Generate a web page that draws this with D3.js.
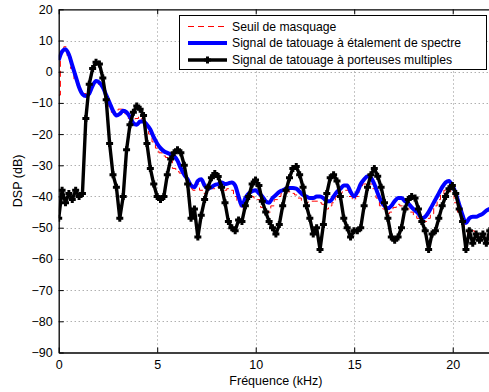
<!DOCTYPE html>
<html>
<head>
<meta charset="utf-8">
<script src="https://cdn.jsdelivr.net/npm/d3@7"></script>
<style>
  body { margin: 0; background: #fff; }
  svg { display: block; }
  text { font-family: "Liberation Sans", Arial, sans-serif; fill: #000; }
</style>
</head>
<body>
<svg id="chart" width="489" height="392"></svg>
<script>
// FFT bin spacing (kHz) for a 256-point transform at 44.1 kHz
const binStep = 44.1 / 256;

// Masking threshold (dB), one value per bin
const threshold = [
  -7.5, 6, 8, 5, 1, -2.5, -5.5, -7.5, -7, -5.5,
  -4, -3.5, -4, -5.5, -8, -11, -13, -13, -12, -12,
  -13.5, -15, -15.5, -15, -14.5, -16, -18, -20, -22.5, -24.5,
  -26, -27, -27.5, -28.5, -31, -32, -32.5, -33.5, -36, -37.5,
  -38, -36, -38, -39, -38.5, -37.5, -37.5, -37, -37.5, -38,
  -37.5, -38, -40, -42, -44, -42, -40.5, -40, -40.5, -41,
  -43.5, -44.5, -45, -43, -41, -40, -39, -38.5, -38.5, -39,
  -39.5, -40.5, -41.5, -42, -41.5, -41.5, -41.5, -42, -42.5, -44,
  -43, -42, -40, -39, -38.5, -38, -40, -41, -40, -37.5,
  -36, -35.5, -36, -37.5, -40.5, -43, -44, -45.5, -45, -43.5,
  -42.5, -43, -44, -44, -45, -46, -47, -48, -48, -47,
  -45.5, -43, -41, -39.5, -38, -37.5, -38.5, -42, -45, -48,
  -51, -52, -51, -52, -53, -52, -53, -52
];

// Spread-spectrum watermark PSD (dB)
const spreadSpectrum = [
  3.7, 6.5, 7.2, 5.5, 2, -1.5, -5, -7.2, -7.8, -7,
  -4.5, -3, -3.5, -5, -7.5, -10, -12.5, -14, -13.5, -12.5,
  -13, -14.5, -16.5, -17, -16, -16, -17, -18.5, -21, -23,
  -24.5, -25.5, -26, -26.5, -27, -28.5, -31, -33, -34.5, -36.5,
  -37, -35, -34.5, -36.5, -37.5, -37, -36.3, -36, -35.5, -36,
  -35.8, -35.5, -36.5, -40, -43, -40.5, -39, -38.3, -38, -39,
  -40, -41.5, -42, -40.5, -39.5, -38.5, -38, -37.5, -37.3, -37.3,
  -37.5, -38.5, -39.5, -40, -40.5, -40.5, -40, -40, -40.5, -41.5,
  -41.5, -40, -38.5, -37.5, -36.5, -36.5, -38.5, -40, -38.5, -36,
  -34.5, -33.5, -34, -36, -39, -41.5, -43, -43.8, -43, -41.5,
  -40.5, -40.5, -41.5, -42.2, -43.5, -44.5, -45.5, -47, -46.5, -45,
  -43, -41, -39, -37, -35.5, -35, -36.5, -39, -42.5, -46,
  -48.5, -47, -46.5, -46.5, -46, -45.5, -44.5, -44
];

// Multi-carrier watermark PSD (dB)
const multiCarrier = [
  -47, -38, -42, -39, -41, -38, -40, -39, -15, -4,
  1, 3, 2.5, -2, -9, -23, -33, -37, -47, -40,
  -25, -17, -13, -11, -12, -14, -23, -31, -36, -40,
  -41, -40, -33, -28, -26, -25, -26, -30, -36, -47,
  -44, -53, -46, -41, -37, -34, -32.6, -33.6, -37, -42,
  -48, -50, -51, -47.5, -48, -43, -40, -36, -34.7, -36.5,
  -41.5, -45, -48, -50, -52, -49, -43, -38, -34, -31,
  -30.4, -33, -37, -43, -47, -52, -50, -57, -49, -39,
  -34, -33, -35, -40, -47, -50, -53, -51, -51, -50,
  -43, -37, -33, -31, -33.5, -37, -42, -47, -53, -54,
  -53, -50, -44, -41, -40, -40.5, -44, -48, -51, -57,
  -52, -51, -47, -43, -40, -37.5, -36.5, -39, -44, -48,
  -57, -51, -55, -52, -54, -52, -55, -51
];

const xTicks = [0, 5, 10, 15, 20];
const yTicks = [-90, -80, -70, -60, -50, -40, -30, -20, -10, 0, 10, 20];
const legendLabels = [
  "Seuil de masquage",
  "Signal de tatouage à étalement de spectre",
  "Signal de tatouage à porteuses multiples"
];

const svg = d3.select("#chart");
const margin = { left: 58.7, top: 9.3 };
const plotW = 434.4, plotH = 343.2;

const x = d3.scaleLinear().domain([0, 22.05]).range([margin.left, margin.left + plotW]);
const y = d3.scaleLinear().domain([-90, 20]).range([margin.top + plotH, margin.top]);

const freqs = threshold.map((_, i) => i * binStep);

svg.append("defs").append("clipPath").attr("id", "plot-clip")
  .append("rect")
  .attr("x", x(0)).attr("y", y(20))
  .attr("width", plotW).attr("height", plotH);

// Dotted grid
const grid = svg.append("g").attr("stroke", "#8c8c8c").attr("stroke-width", 1)
  .attr("stroke-dasharray", "1,3");
grid.selectAll("line.h").data(yTicks.filter(t => t > -90 && t < 20)).join("line")
  .attr("class", "h")
  .attr("x1", x(0)).attr("x2", x(22.05))
  .attr("y1", d => Math.round(y(d)) + 0.5).attr("y2", d => Math.round(y(d)) + 0.5);
grid.selectAll("line.v").data(xTicks.filter(t => t > 0)).join("line")
  .attr("class", "v")
  .attr("y1", y(-90)).attr("y2", y(20))
  .attr("x1", d => Math.round(x(d)) + 0.5).attr("x2", d => Math.round(x(d)) + 0.5);

const plot = svg.append("g").attr("clip-path", "url(#plot-clip)");

const line = (vals, curve) => d3.line()
  .x((d, i) => x(freqs[i]))
  .y(d => y(d))
  .curve(curve)(vals);

plot.append("path")
  .attr("d", line(threshold, d3.curveStep))
  .attr("fill", "none").attr("stroke", "#ff0000")
  .attr("stroke-width", 1).attr("stroke-dasharray", "6,4");

plot.append("path")
  .attr("d", line(spreadSpectrum, d3.curveMonotoneX))
  .attr("fill", "none").attr("stroke", "#0000ff")
  .attr("stroke-width", 4).attr("stroke-linejoin", "round");

plot.append("path")
  .attr("d", line(multiCarrier, d3.curveLinear))
  .attr("fill", "none").attr("stroke", "#000")
  .attr("stroke-width", 3.4).attr("stroke-linejoin", "round");

const plusPath = "M-3.5,0H3.5M0,-3.5V3.5";
plot.selectAll("path.marker").data(multiCarrier).join("path")
  .attr("class", "marker")
  .attr("d", plusPath)
  .attr("transform", (d, i) => `translate(${x(freqs[i])},${y(d)})`)
  .attr("stroke", "#000").attr("stroke-width", 3);

// Axes with inward ticks
const xAxis = d3.axisBottom(x).tickValues(xTicks).tickSizeInner(-5).tickSizeOuter(0).tickPadding(8);
const yAxis = d3.axisLeft(y).tickValues(yTicks).tickSizeInner(-5).tickSizeOuter(0).tickPadding(6);

const gx = svg.append("g").attr("transform", `translate(0,${y(-90)})`).call(xAxis);
const gy = svg.append("g").attr("transform", `translate(${x(0)},0)`).call(yAxis);
const gTop = svg.append("g").attr("transform", `translate(0,${y(20)})`)
  .call(d3.axisTop(x).tickValues(xTicks).tickSizeInner(-5).tickSizeOuter(0).tickFormat(""));

[gx, gy, gTop].forEach(g => {
  g.select(".domain").attr("stroke", "#000").attr("stroke-width", 1.3);
  g.selectAll(".tick line").attr("stroke", "#000");
  g.selectAll("text").attr("font-size", 12.5).attr("font-family", "'Liberation Sans', Arial, sans-serif");
});

// Axis titles
svg.append("text")
  .attr("x", x(0) + plotW / 2).attr("y", 385)
  .attr("text-anchor", "middle").attr("font-size", 12.5)
  .text("Fréquence (kHz)");
svg.append("text")
  .attr("transform", `translate(22,${y(-35)}) rotate(-90)`)
  .attr("text-anchor", "middle").attr("font-size", 12.5)
  .text("DSP (dB)");

// Legend
const legend = svg.append("g");
legend.append("rect")
  .attr("x", 179.5).attr("y", 15.5).attr("width", 307).attr("height", 54)
  .attr("fill", "#fff").attr("stroke", "#000").attr("stroke-width", 1);

const legendStyles = [
  { stroke: "#ff0000", width: 1, dash: "6,4", marker: false },
  { stroke: "#0000ff", width: 4, dash: null, marker: false },
  { stroke: "#000", width: 3.4, dash: null, marker: true }
];
const rowY = [26.5, 43, 60];
legendLabels.forEach((label, i) => {
  const s = legendStyles[i];
  legend.append("line")
    .attr("x1", 188).attr("x2", 227).attr("y1", rowY[i]).attr("y2", rowY[i])
    .attr("stroke", s.stroke).attr("stroke-width", s.width)
    .attr("stroke-dasharray", s.dash);
  if (s.marker) {
    legend.append("path").attr("d", plusPath)
      .attr("transform", `translate(207.5,${rowY[i]})`)
      .attr("stroke", "#000").attr("stroke-width", 3);
  }
  legend.append("text")
    .attr("x", 232).attr("y", rowY[i]).attr("dy", "0.35em")
    .attr("font-size", 12.2)
    .text(label);
});
</script>
</body>
</html>
